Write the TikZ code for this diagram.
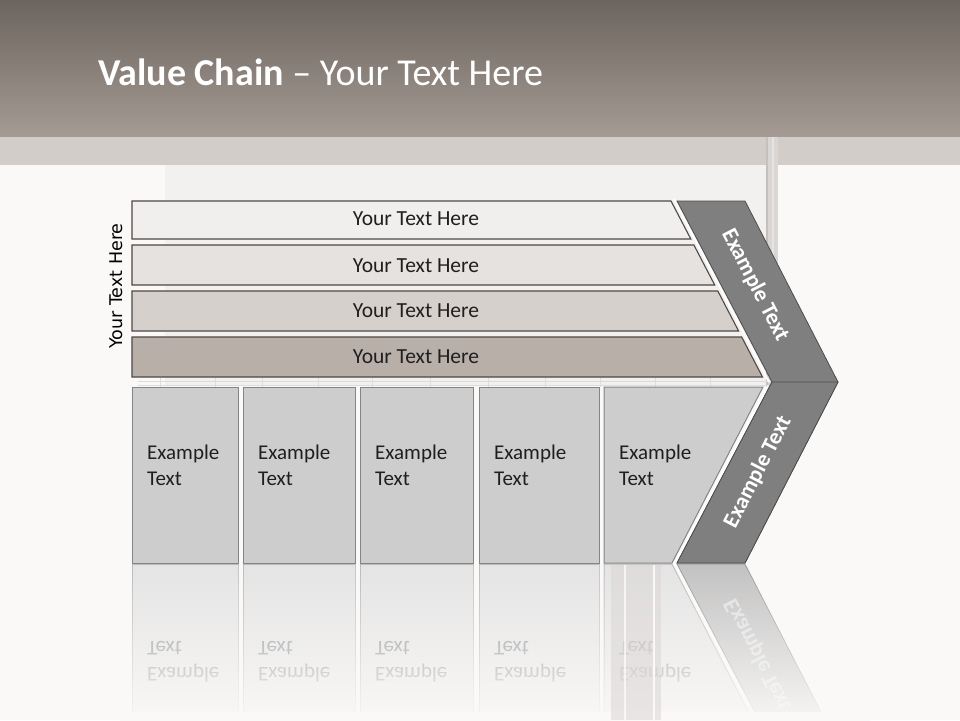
\documentclass[tikz,border=0pt]{standalone}
\usepackage{fontspec}
\setmainfont{Carlito}
\newfontfamily\vfont{DejaVu Sans}
\usetikzlibrary{fadings}
\tikzfading[name=fadedown, top color=transparent!88, middle color=transparent!35, bottom color=transparent!0]
\definecolor{bgc}{HTML}{FAF9F8}
\definecolor{hdtop}{HTML}{6C645E}
\definecolor{hdbot}{HTML}{A59B94}
\definecolor{bandc}{HTML}{D3CDCA}
\definecolor{panelc}{HTML}{F3F1EF}
\definecolor{pillarc}{HTML}{DAD6D4}
\definecolor{pillaredge}{HTML}{C4C0BE}
\definecolor{barA}{HTML}{F0EFEE}
\definecolor{barB}{HTML}{E6E2E0}
\definecolor{barC}{HTML}{D6D0CC}
\definecolor{barD}{HTML}{B8AFA9}
\definecolor{barline}{HTML}{4F4843}
\definecolor{boxfill}{HTML}{CDCDCD}
\definecolor{boxline}{HTML}{858585}
\definecolor{chevfill}{HTML}{7F7F7F}
\definecolor{chevline}{HTML}{4D4D4D}
\definecolor{txtc}{HTML}{1F1F1F}
\definecolor{shelfc}{HTML}{DCDCDC}
\tikzset{
  barst/.style={draw=barline, line width=1.1pt},
  bartxt/.style={font=\fontsize{21.5}{25}\selectfont, text=txtc, inner sep=0pt},
  boxst/.style={fill=boxfill, draw=boxline, line width=1pt},
  boxtxt/.style={font=\fontsize{21}{26}\selectfont, text=txtc, align=left, inner sep=0pt, anchor=north west},
  chevst/.style={fill=chevfill, draw=chevline, line width=0.8pt},
  chevtxt/.style={font=\bfseries\fontsize{22.5}{25}\selectfont, text=white, inner sep=0pt},
  glow/.style={draw=white, line width=1.8pt},
}
\newcommand\lowershapes[2]{%
  \foreach \l/\r [count=\i] in {132/238,243/355,360/473,479/599}{
    \draw[boxst, opacity=#2] (\l,387) rectangle (\r,563);
    \node[boxtxt, text opacity=#2] (#1\i) at (\l+15,445) {Example\\Text};
  }
  \draw[boxst, opacity=#2] (604,387) -- (763,387) -- (672,563) -- (604,563) -- cycle;
  \node[boxtxt, text opacity=#2] (#1e) at (619,445) {Example\\Text};
  \draw[glow, opacity=#2] (768,386) -- (674,565);
  \draw[chevst, opacity=#2] (772,382) -- (838,382) -- (745,563) -- (677,563) -- cycle;
  \node[chevtxt, rotate=62.8, text opacity=#2] (#1c) at (758,472) {Example Text};
}
\begin{document}
\begin{tikzpicture}[x=1pt,y=-1pt]
\useasboundingbox (0,0) rectangle (960,720);
% background
\fill[bgc] (0,0) rectangle (960,720);
\fill[panelc] (165,165) rectangle (766,386);
\shade[top color=hdtop, bottom color=hdbot] (0,0) rectangle (960,137);
\fill[bandc] (0,137) rectangle (960,165);
\fill[pillarc] (766,137) rectangle (778,392);
\draw[pillaredge, line width=1.5pt] (767,137) -- (767,392);
\draw[white, opacity=0.35, line width=2pt] (773,137) -- (773,392);
% faint shelf lines
\draw[shelfc, line width=1pt] (138,381) -- (770,381);
\draw[shelfc, line width=1pt] (138,385.5) -- (770,385.5);
\foreach \x in {160,215,262,318,372,430,488,545,600,655,710}{
  \draw[shelfc, line width=1pt] (\x,378) -- (\x,387);
}
% title
\node[anchor=base west, inner sep=0pt, text=white, font=\fontsize{38}{42}\selectfont] (title) at (98,85) {\textbf{Value Chain} -- Your Text Here};
% vertical label
\node[rotate=90, inner sep=0pt, font=\vfont\fontsize{17.5}{20}\selectfont, text=black] (side) at (116,286) {Your Text Here};
% glow line along upper chevron
\draw[glow] (674,199) -- (769,382);
% bars
\draw[barst, fill=barA] (132,201) -- (671,201) -- (690.8,239) -- (132,239) -- cycle;
\draw[barst, fill=barB] (132,245) -- (693.9,245) -- (714.7,285) -- (132,285) -- cycle;
\draw[barst, fill=barC] (132,291) -- (717.8,291) -- (738.6,331) -- (132,331) -- cycle;
\draw[barst, fill=barD] (132,337) -- (741.7,337) -- (762.5,377) -- (132,377) -- cycle;
\node[bartxt] (b1) at (416,219) {Your Text Here};
\node[bartxt] (b2) at (416,266) {Your Text Here};
\node[bartxt] (b3) at (416,311) {Your Text Here};
\node[bartxt] (b4) at (416,357) {Your Text Here};
% chevron
\draw[chevst] (677,201) -- (745,201) -- (838,382) -- (745,563) -- (677,563) -- (772,382) -- cycle;
\node[chevtxt, rotate=-62.8] (cu) at (755,285) {Example Text};
% lower boxes and lower chevron text
\lowershapes{m}{1}
% reflection
\begin{scope}[shift={(0,1127)}, yscale=-1, transform shape]
  \lowershapes{r}{0.5}
\end{scope}
\fill[bgc, path fading=fadedown] (120,564.5) rectangle (870,730);
\fill[bgc] (120,712) rectangle (870,730);
% reflected pillar
\fill[pillarc, opacity=0.55] (611,564.5) rectangle (661,720);
\draw[white, opacity=0.7, line width=2pt] (625,564.5) -- (625,720);
\draw[white, opacity=0.8, line width=2.5pt] (654,564.5) -- (654,720);
\end{tikzpicture}
\end{document}
